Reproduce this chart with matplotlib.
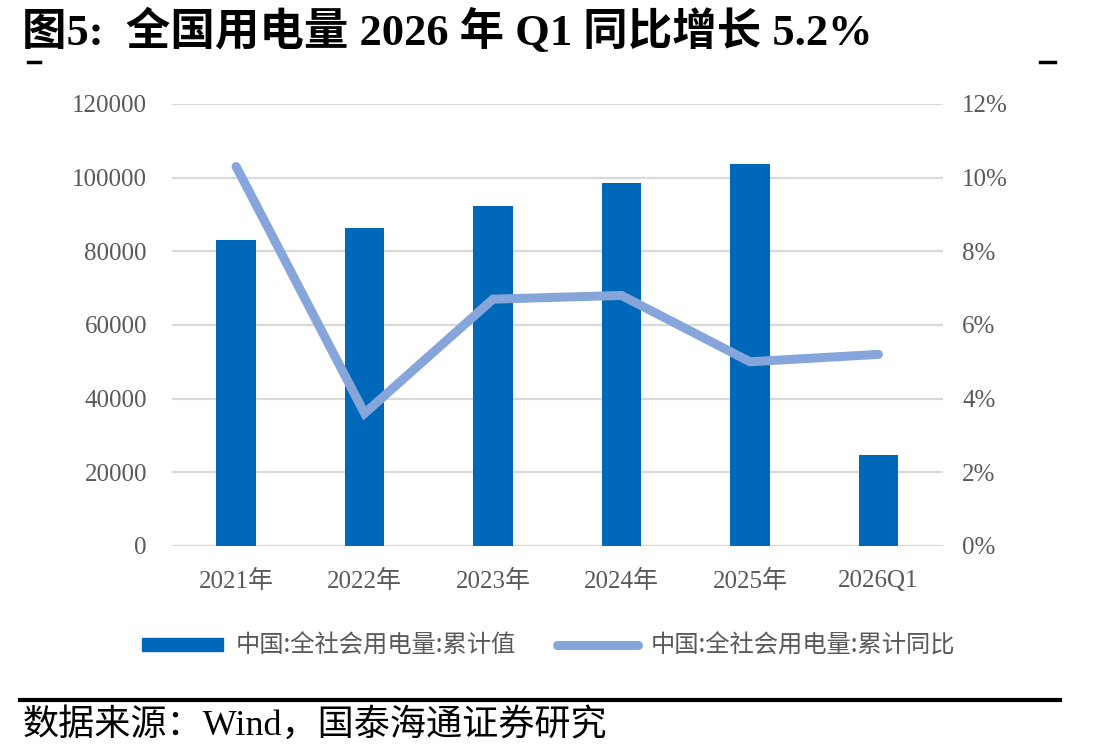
import numpy as np
import matplotlib.pyplot as plt
from matplotlib.lines import Line2D
from matplotlib.patches import Patch

plt.rcParams['font.family'] = ['Liberation Serif', 'Noto Sans CJK SC']

categories = ['2021年', '2022年', '2023年', '2024年', '2025年', '2026Q1']
cum_value = [83128, 86372, 92241, 98521, 103682, 24700]
yoy_pct = [10.3, 3.6, 6.7, 6.8, 5.0, 5.2]

bar_color = '#0068B8'
line_color = '#86A6DB'
tick_color = '#595959'

fig = plt.figure(figsize=(11.09, 7.53), dpi=100)
ax = fig.add_axes([0.155, 0.275, 0.695, 0.587])
ax2 = ax.twinx()

x = np.arange(len(categories))
ax.bar(x, cum_value, width=0.31, color=bar_color, zorder=2)
ax2.plot(x, yoy_pct, color=line_color, lw=6.5, solid_capstyle='round',
         solid_joinstyle='miter', zorder=3)

ax.set_xlim(-0.5, len(categories) - 0.5)
ax.set_ylim(0, 120000)
ax.set_yticks(np.arange(0, 120001, 20000))
ax2.set_ylim(0, 12)
ax2.set_yticks(np.arange(0, 13, 2))
ax2.set_yticklabels([f'{v}%' for v in range(0, 13, 2)])
ax.set_xticks(x)
ax.set_xticklabels(categories)

ax.grid(axis='y', color='#D9D9D9', lw=1.6, zorder=0)
ax.set_axisbelow(True)
ax.set_zorder(ax2.get_zorder() - 1)
ax2.patch.set_visible(False)
ax.patch.set_visible(False)

for a in (ax, ax2):
    for s in a.spines.values():
        s.set_visible(False)
    a.tick_params(length=0, labelsize=18, colors=tick_color)
ax.tick_params(axis='y', pad=18)
ax2.tick_params(axis='y', pad=14)
ax.tick_params(axis='x', pad=17)

handles = [Patch(color=bar_color), Line2D([0], [0], color=line_color, lw=6.5, solid_capstyle='round')]
labels = ['中国:全社会用电量:累计值', '中国:全社会用电量:累计同比']
leg = fig.legend(handles, labels, loc='center', bbox_to_anchor=(0.495, 0.142), ncol=2,
                 frameon=False, handlelength=3.3, handleheight=0.45,
                 columnspacing=1.7, handletextpad=0.55,
                 prop={'family': ['Noto Sans CJK SC'], 'size': 17.5})
for t in leg.get_texts():
    t.set_color(tick_color)

fig.text(0.02, 0.958, '图5:  全国用电量 2026 年 Q1 同比增长 5.2%', fontsize=32,
         fontweight='bold', va='center', ha='left',
         family=['Liberation Serif', 'Noto Sans CJK SC'])
fig.add_artist(Line2D([0.025, 0.036], [0.917, 0.917], color='black', lw=2.5))
fig.add_artist(Line2D([0.938, 0.951], [0.917, 0.917], color='black', lw=2.5))
fig.add_artist(Line2D([0.018, 0.956], [0.07, 0.07], color='black', lw=3))
fig.text(0.02, 0.037, '数据来源：Wind，国泰海通证券研究', fontsize=26, va='center', ha='left',
         family=['Liberation Serif', 'Noto Sans CJK SC'])

fig.savefig('out.png', dpi=100)
